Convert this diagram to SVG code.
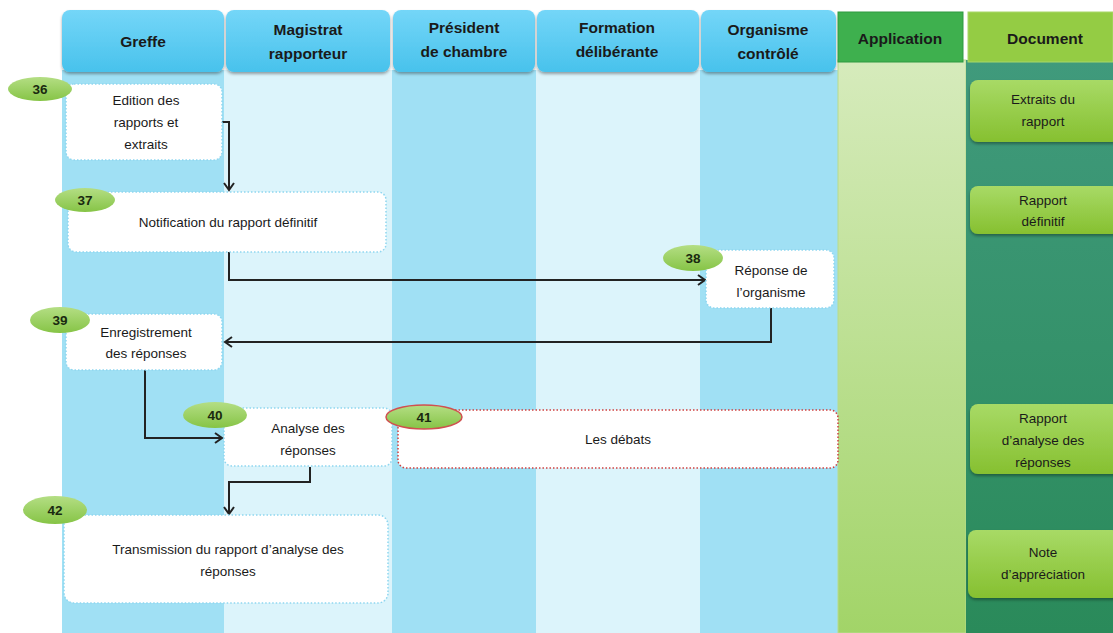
<svg xmlns="http://www.w3.org/2000/svg" width="1113" height="633" viewBox="0 0 1113 633">
<defs>
<linearGradient id="hdrBlue" x1="0" y1="0" x2="0" y2="1"><stop offset="0" stop-color="#74d6f8"/><stop offset="1" stop-color="#48c2ec"/></linearGradient>
<linearGradient id="appLane" x1="0" y1="0" x2="0" y2="1"><stop offset="0" stop-color="#d6ebbc"/><stop offset="1" stop-color="#a2d468"/></linearGradient>
<linearGradient id="docLane" x1="0" y1="0" x2="0" y2="1"><stop offset="0" stop-color="#409a7c"/><stop offset="1" stop-color="#2a8a5a"/></linearGradient>
<linearGradient id="docBox" x1="0" y1="0" x2="0" y2="1"><stop offset="0" stop-color="#a8da66"/><stop offset="1" stop-color="#86c030"/></linearGradient>
<linearGradient id="badge" x1="0" y1="0" x2="0" y2="1"><stop offset="0" stop-color="#b4de84"/><stop offset="1" stop-color="#86c446"/></linearGradient>
<filter id="sh" x="-10%" y="-10%" width="130%" height="140%"><feDropShadow dx="0" dy="2" stdDeviation="1.5" flood-color="#000" flood-opacity="0.35"/></filter>
<marker id="arr" markerWidth="12" markerHeight="12" refX="9" refY="6" orient="auto" markerUnits="userSpaceOnUse"><path d="M2,1 L9,6 L2,11" fill="none" stroke="#222" stroke-width="2"/></marker>
</defs>
<style>
.hdr{fill:url(#hdrBlue);filter:url(#sh)}
.ht{font-family:"Liberation Sans",Arial,sans-serif;font-size:15.5px;font-weight:bold;fill:#1a1a1a;text-anchor:middle}
.t{font-family:"Liberation Sans",Arial,sans-serif;font-size:13.5px;fill:#1a1a1a;text-anchor:middle}
.bt{font-family:"Liberation Sans",Arial,sans-serif;font-size:13.5px;font-weight:bold;fill:#1a2a10;text-anchor:middle}
.box{fill:#fff;stroke:#8fd6f0;stroke-width:1.5;stroke-dasharray:1.5 2}
.rbox{fill:#fff;stroke:#d04040;stroke-width:1.5;stroke-dasharray:1.5 2}
.bd{fill:url(#badge)}
.doc{fill:url(#docBox);filter:url(#sh)}
.con{fill:none;stroke:#222;stroke-width:2}
</style>
<rect width="1113" height="633" fill="#fff"/>
<g id="lanes">
<rect x="62" y="70" width="162" height="563" fill="#a0e0f4"/>
<rect x="224" y="70" width="168" height="563" fill="#dcf4fb"/>
<rect x="392" y="70" width="144" height="563" fill="#a0e0f4"/>
<rect x="536" y="70" width="164" height="563" fill="#dcf4fb"/>
<rect x="700" y="70" width="138" height="563" fill="#a0e0f4"/>
<rect x="838" y="60" width="128" height="573" fill="url(#appLane)" stroke="#b8dc8c" stroke-width="1"/>
<rect x="966" y="60" width="147" height="573" fill="url(#docLane)"/>
</g>
<g id="headers">
<rect class="hdr" x="62" y="10" width="162" height="62" rx="8"/>
<text class="ht" x="143" y="47">Greffe</text>
<rect class="hdr" x="226" y="10" width="164" height="62" rx="8"/>
<text class="ht" x="308" y="35">Magistrat</text><text class="ht" x="308" y="59">rapporteur</text>
<rect class="hdr" x="393" y="10" width="142" height="62" rx="8"/>
<text class="ht" x="464" y="33">Président</text><text class="ht" x="464" y="57">de chambre</text>
<rect class="hdr" x="537" y="10" width="162" height="62" rx="8"/>
<text class="ht" x="617" y="33">Formation</text><text class="ht" x="617" y="57">délibérante</text>
<rect class="hdr" x="701" y="10" width="135" height="62" rx="8"/>
<text class="ht" x="768" y="35">Organisme</text><text class="ht" x="768" y="59">contrôlé</text>
<rect x="838" y="12" width="125" height="50" fill="#3eb04e" stroke="#2e9a40" stroke-width="1"/>
<text class="ht" x="900" y="44">Application</text>
<rect x="968" y="12" width="145" height="50" fill="#94cc44" stroke="#a8d868" stroke-width="1"/>
<text class="ht" x="1045" y="44">Document</text>
</g>
<g id="connectors">
<path class="con" d="M222,122 H229 V190" marker-end="url(#arr)"/>
<path class="con" d="M229,252 V280 H705" marker-end="url(#arr)"/>
<path class="con" d="M771,308 V342 H225" marker-end="url(#arr)"/>
<path class="con" d="M145,370 V438 H222" marker-end="url(#arr)"/>
<path class="con" d="M310,467 V482 H229 V514" marker-end="url(#arr)"/>
</g>
<g id="n36">
<rect class="box" x="66" y="84" width="156" height="76" rx="8"/>
<text class="t" x="146" y="105">Edition des</text><text class="t" x="146" y="127">rapports et</text><text class="t" x="146" y="149">extraits</text>
<ellipse class="bd" cx="40" cy="89" rx="32" ry="12"/><text class="bt" x="40" y="94">36</text>
</g>
<g id="n37">
<rect class="box" x="68" y="192" width="318" height="60" rx="8"/>
<text class="t" x="228" y="227">Notification du rapport définitif</text>
<ellipse class="bd" cx="85" cy="200" rx="30" ry="12"/><text class="bt" x="85" y="205">37</text>
</g>
<g id="n38">
<rect class="box" x="706" y="250" width="128" height="58" rx="8"/>
<text class="t" x="771" y="275">Réponse de</text><text class="t" x="771" y="297">l’organisme</text>
<ellipse class="bd" cx="693" cy="258" rx="30" ry="13"/><text class="bt" x="693" y="263">38</text>
</g>
<g id="n39">
<rect class="box" x="66" y="314" width="156" height="56" rx="8"/>
<text class="t" x="146" y="337">Enregistrement</text><text class="t" x="146" y="358">des réponses</text>
<ellipse class="bd" cx="60" cy="320" rx="30" ry="13"/><text class="bt" x="60" y="325">39</text>
</g>
<g id="n40">
<rect class="box" x="224" y="408" width="168" height="58" rx="8"/>
<text class="t" x="308" y="433">Analyse des</text><text class="t" x="308" y="455">réponses</text>
<ellipse class="bd" cx="215" cy="415" rx="32" ry="13"/><text class="bt" x="215" y="420">40</text>
</g>
<g id="n41">
<rect class="rbox" x="398" y="410" width="440" height="58" rx="8"/>
<text class="t" x="618" y="444">Les débats</text>
<ellipse class="bd" cx="424" cy="417" rx="38" ry="12" stroke="#d05050" stroke-width="1.5"/><text class="bt" x="424" y="422">41</text>
</g>
<g id="n42">
<rect class="box" x="64" y="515" width="324" height="88" rx="10"/>
<text class="t" x="228" y="554">Transmission du rapport d’analyse des</text><text class="t" x="228" y="576">réponses</text>
<ellipse class="bd" cx="55" cy="510" rx="32" ry="14"/><text class="bt" x="55" y="515">42</text>
</g>
<g id="d1">
<rect class="doc" x="970" y="80" width="150" height="62" rx="8"/>
<text class="t" x="1043" y="104">Extraits du</text><text class="t" x="1043" y="126">rapport</text>
</g>
<g id="d2">
<rect class="doc" x="970" y="186" width="150" height="48" rx="8"/>
<text class="t" x="1043" y="205">Rapport</text><text class="t" x="1043" y="226">définitif</text>
</g>
<g id="d3">
<rect class="doc" x="970" y="404" width="150" height="70" rx="8"/>
<text class="t" x="1043" y="423">Rapport</text><text class="t" x="1043" y="445">d’analyse des</text><text class="t" x="1043" y="467">réponses</text>
</g>
<g id="d4">
<rect class="doc" x="968" y="530" width="152" height="68" rx="8"/>
<text class="t" x="1043" y="557">Note</text><text class="t" x="1043" y="579">d’appréciation</text>
</g>
</svg>
